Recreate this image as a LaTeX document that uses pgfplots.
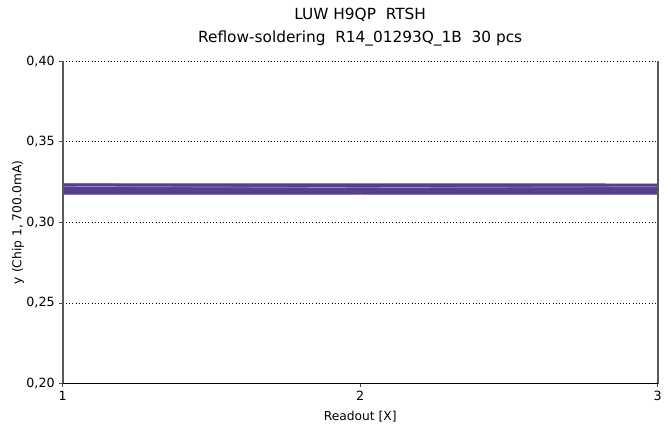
\documentclass[border=0pt]{standalone}
\usepackage{pgfplots}
\pgfplotsset{compat=1.18}
\usepackage{pgfplotstable}
\usepackage{fontspec}
\setmainfont{DejaVu Sans}

\definecolor{band}{HTML}{56408E}
\definecolor{bandlight}{HTML}{9A8CC4}

% readout x, then 30 pieces
\pgfplotstableread{
x y1 y2 y3 y4 y5 y6 y7 y8 y9 y10 y11 y12 y13 y14 y15 y16 y17 y18 y19 y20 y21 y22 y23 y24 y25 y26 y27 y28 y29 y30
1 0.3177 0.3180 0.3182 0.3184 0.3186 0.3188 0.3190 0.3192 0.3194 0.3196 0.3198 0.3200 0.3202 0.3204 0.3206 0.3208 0.3210 0.3212 0.3214 0.3216 0.3218 0.3220 0.3224 0.3226 0.3228 0.3230 0.3232 0.3234 0.3236 0.3238
2 0.3178 0.3181 0.3182 0.3185 0.3186 0.3189 0.3190 0.3193 0.3194 0.3197 0.3198 0.3201 0.3202 0.3205 0.3206 0.3209 0.3210 0.3213 0.3215 0.3217 0.3218 0.3221 0.3223 0.3225 0.3226 0.3229 0.3230 0.3233 0.3234 0.3238
3 0.3177 0.3180 0.3183 0.3184 0.3187 0.3188 0.3191 0.3192 0.3195 0.3196 0.3199 0.3200 0.3203 0.3204 0.3207 0.3208 0.3211 0.3212 0.3215 0.3216 0.3219 0.3220 0.3222 0.3224 0.3227 0.3228 0.3231 0.3232 0.3235 0.3237
}\pieces

\begin{document}
\begin{tikzpicture}
\begin{axis}[
  scale only axis,
  width=446pt, height=241.5pt,
  xmin=1, xmax=3,
  ymin=0.2, ymax=0.4,
  xtick={1,2,3},
  ytick={0.20,0.25,0.30,0.35,0.40},
  yticklabel style={/pgf/number format/.cd,fixed,fixed zerofill,precision=2,use comma},
  /pgf/number format/assume math mode=true,
  ticklabel style={font=\fontsize{9.5}{12}\selectfont},
  tick align=outside,
  major tick length=2.5pt,
  tick style={black!70, line width=0.6pt},
  xtick pos=bottom, ytick pos=left,
  ymajorgrids=true,
  grid style={black, dotted, line width=0.6pt},
  axis line style={draw=none},
  xlabel={Readout [X]},
  ylabel={y (Chip 1, 700.0mA)},
  label style={font=\fontsize{9.2}{11}\selectfont},
  xlabel style={yshift=-1pt},
  ylabel style={yshift=-5pt},
  title={LUW H9QP\ \ RTSH\\Reflow-soldering\ \ R14\_01293Q\_1B\ \ 30 pcs},
  title style={align=center, font=\fontsize{11.5}{17.5}\selectfont, yshift=2pt},
  clip=false,
]
\pgfplotsinvokeforeach{1,...,30}{
  \addplot[band, line width=1.1pt, forget plot] table[x=x, y=y#1] {\pieces};
}
\addplot[bandlight, line width=0.5pt, forget plot] coordinates {(1,0.3224)(2,0.3216)(3,0.3222)};
\draw[black!65, line width=1.4pt] (rel axis cs:0,0) -- (rel axis cs:0,1);
\draw[black!65, line width=1.4pt] (rel axis cs:1,0) -- (rel axis cs:1,1);
\draw[black, line width=0.7pt] (rel axis cs:0,0) -- (rel axis cs:1,0);
\end{axis}
\path (current axis.south west) ++(-47pt,-32pt);
\path (current axis.north east) ++(10pt,46pt);
\end{tikzpicture}
\end{document}
